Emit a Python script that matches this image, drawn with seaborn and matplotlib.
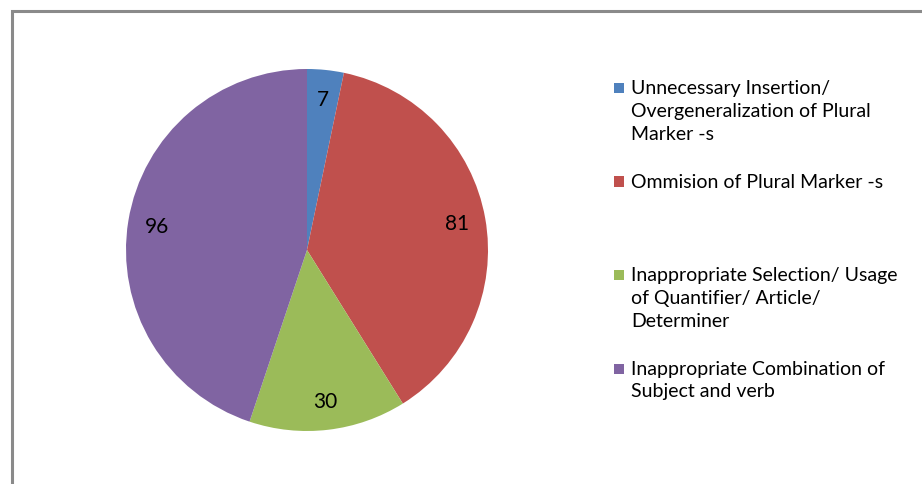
import matplotlib
matplotlib.use('Agg')
import matplotlib.pyplot as plt
from matplotlib.patches import Rectangle
import seaborn as sns

# 各カテゴリ（凡例の文言そのまま）
categories = [
    'Unnecessary Insertion/\nOvergeneralization of Plural\nMarker -s',
    'Ommision of Plural Marker -s',
    'Inappropriate Selection/ Usage\nof Quantifier/ Article/\nDeterminer',
    'Inappropriate Combination of\nSubject and verb',
]
counts = [7, 81, 30, 96]
colors = ['#4F81BD', '#C0504D', '#9BBB59', '#8064A2']

sns.set_theme(style='white')
plt.rcParams['font.family'] = ['Lato', 'DejaVu Sans']

W, H = 922, 485
fig = plt.figure(figsize=(W / 100, H / 100), dpi=100)

# 外枠（左と上だけ見えている）
top_y = 1 - 11.5 / H
fig.patches.append(Rectangle((12 / W, -0.1), 2.0, top_y + 0.1, transform=fig.transFigure,
                             fill=False, edgecolor='#8a8a8a', linewidth=2.2))

# 円グラフ
cx, cy, r = 307, 251, 181
ax = fig.add_axes([(cx - r) / W, (H - cy - r) / H, 2 * r / W, 2 * r / H])
palette = sns.color_palette(colors)
wedges, texts = ax.pie(counts, colors=palette, startangle=90, counterclock=False,
                       labels=[str(c) for c in counts], labeldistance=0.84,
                       wedgeprops=dict(linewidth=0),
                       textprops=dict(fontsize=15, color='black', ha='center', va='center'))
ax.set_aspect('equal')
ax.set_xlim(-1, 1)
ax.set_ylim(-1, 1)
ax.axis('off')

# 凡例を手で並べる
top_px = 80
step_px = 93.5
for i, (lab, col) in enumerate(zip(categories, palette)):
    y = top_px + i * step_px
    fig.patches.append(Rectangle((614 / W, 1 - (y + 14) / H), 10 / W, 10 / H,
                                 transform=fig.transFigure, facecolor=col, edgecolor='none'))
    fig.text(631 / W, 1 - y / H, lab, fontsize=14, va='top', ha='left',
             linespacing=1.42, color='black')

fig.savefig('out.png', dpi=100)
